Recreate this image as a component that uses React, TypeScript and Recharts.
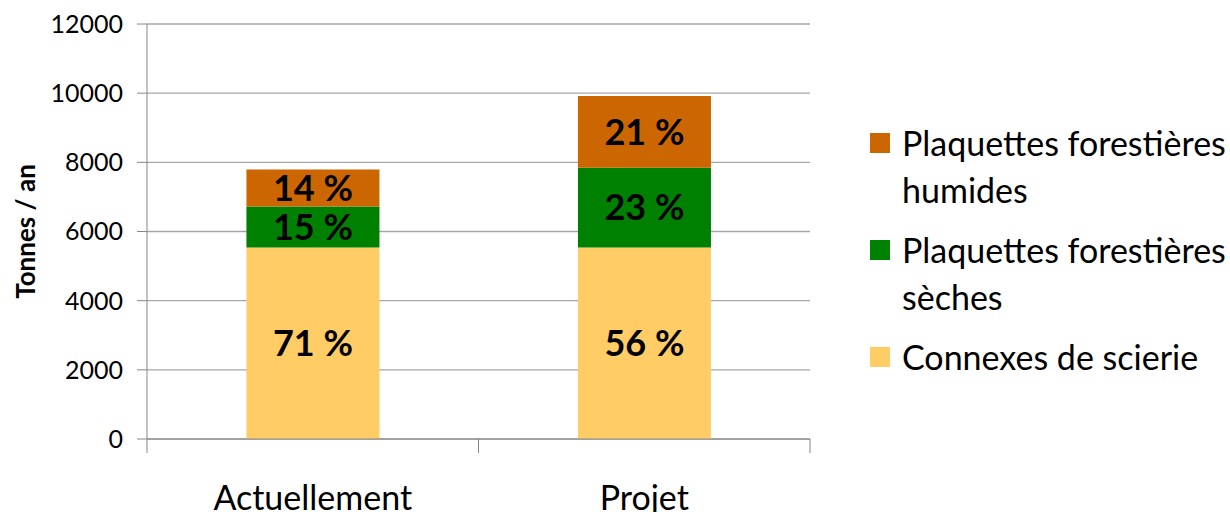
import React from 'react';
import { BarChart, Bar, XAxis, YAxis, CartesianGrid, LabelList } from 'recharts';

const categories = ['Actuellement', 'Projet'];
const connexes = [5540, 5540];
const seches = [1180, 2300];
const humides = [1070, 2080];
const yTicks = [0, 2000, 4000, 6000, 8000, 10000, 12000];

const COLORS = { humides: '#CC6600', seches: '#008000', connexes: '#FFCC66' };
const FONT = 'Lato, "Open Sans", sans-serif';

const legendItems = [
  { lines: ['Plaquettes forestières', 'humides'], color: COLORS.humides },
  { lines: ['Plaquettes forestières', 'sèches'], color: COLORS.seches },
  { lines: ['Connexes de scierie'], color: COLORS.connexes },
];

const pct = (v: number, i: number) =>
  Math.round((v / (connexes[i] + seches[i] + humides[i])) * 100) + ' %';

const data = categories.map((name, i) => ({
  name,
  connexes: connexes[i],
  seches: seches[i],
  humides: humides[i],
  pctConnexes: pct(connexes[i], i),
  pctSeches: pct(seches[i], i),
  pctHumides: pct(humides[i], i),
}));

const HALF_BAND = 165.75;

const CategoryTick = (props: any) => {
  const { x, y, payload, index } = props;
  return (
    <g>
      <line x1={x - HALF_BAND} y1={y} x2={x - HALF_BAND} y2={y + 14} stroke="#868686" />
      {index === categories.length - 1 && (
        <line x1={x + HALF_BAND} y1={y} x2={x + HALF_BAND} y2={y + 14} stroke="#868686" />
      )}
      <text x={x} y={y + 71} textAnchor="middle" fontSize={34} fill="#000" fontFamily={FONT}>
        {payload.value}
      </text>
    </g>
  );
};

const pctLabelStyle = { fontSize: 36, fontWeight: 700, fill: '#000', fontFamily: FONT };

export default function App() {
  return (
    <div style={{ position: 'relative', width: 1230, height: 512, background: '#fff', fontFamily: FONT, overflow: 'hidden' }}>
      <style>{`body{margin:0}`}</style>
      <BarChart
        width={1230}
        height={512}
        data={data}
        margin={{ top: 24, right: 420, left: 0, bottom: 43 }}
        barCategoryGap="30%"
      >
        <CartesianGrid vertical={false} stroke="#A6A6A6" strokeWidth={1.3} />
        <XAxis
          dataKey="name"
          stroke="#868686"
          tickLine={false}
          tickSize={0}
          tickMargin={0}
          tick={<CategoryTick />}
          interval={0}
        />
        <YAxis
          width={147}
          domain={[0, 12000]}
          ticks={yTicks}
          interval={0}
          stroke="#868686"
          tickSize={10}
          tickMargin={14}
          tick={{ fill: '#000', fontSize: 25, fontFamily: FONT }}
          label={{
            content: ({ viewBox }: any) => {
              const cx = viewBox.x + 25;
              const cy = viewBox.y + viewBox.height / 2;
              return (
                <text
                  x={cx}
                  y={cy}
                  transform={`rotate(-90 ${cx} ${cy})`}
                  textAnchor="middle"
                  dominantBaseline="central"
                  fontSize={26}
                  fontWeight={700}
                  fontFamily={FONT}
                  fill="#000"
                >
                  Tonnes / an
                </text>
              );
            },
          }}
        />
        <Bar dataKey="connexes" stackId="a" fill={COLORS.connexes} isAnimationActive={false}>
          <LabelList dataKey="pctConnexes" position="center" style={pctLabelStyle} />
        </Bar>
        <Bar dataKey="seches" stackId="a" fill={COLORS.seches} isAnimationActive={false}>
          <LabelList dataKey="pctSeches" position="center" style={pctLabelStyle} />
        </Bar>
        <Bar dataKey="humides" stackId="a" fill={COLORS.humides} isAnimationActive={false}>
          <LabelList dataKey="pctHumides" position="center" style={pctLabelStyle} />
        </Bar>
      </BarChart>
      <div style={{ position: 'absolute', left: 870, top: 124 }}>
        {legendItems.map((item) => (
          <div key={item.lines[0] + item.lines[1]} style={{ display: 'flex', alignItems: 'flex-start', marginBottom: 18 }}>
            <div style={{ width: 20, height: 20, background: item.color, marginTop: 9, marginRight: 12, flexShrink: 0 }} />
            <div style={{ fontSize: 34, lineHeight: '47px', color: '#000', marginTop: -5, whiteSpace: 'nowrap' }}>
              {item.lines.map((l) => (
                <div key={l}>{l}</div>
              ))}
            </div>
          </div>
        ))}
      </div>
    </div>
  );
}
